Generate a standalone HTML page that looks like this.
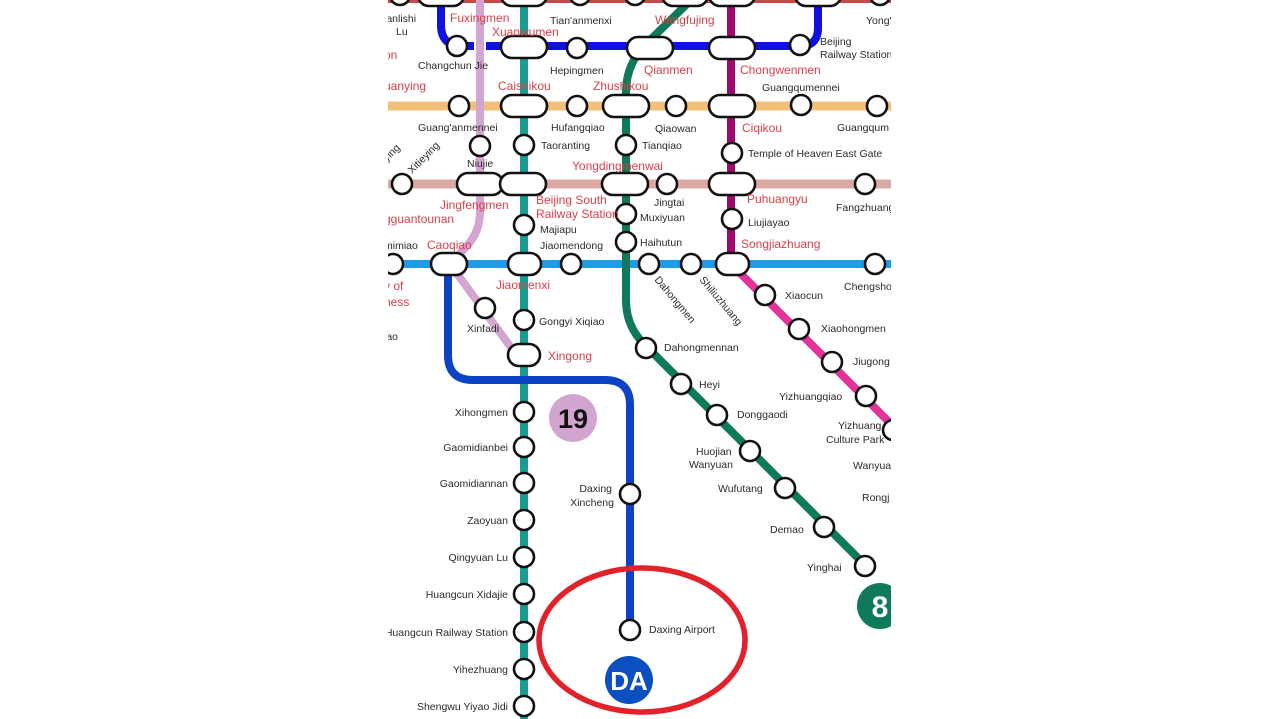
<!DOCTYPE html>
<html><head><meta charset="utf-8"><style>
html,body{margin:0;padding:0;background:#fff;}
svg{display:block;}
text{font-family:"Liberation Sans",sans-serif;}
.b{font-size:10.5px;fill:#2a2a2a;}
.r{font-size:12px;fill:#d9414a;}
</style></head><body>
<svg width="1280" height="719" viewBox="0 0 1280 719" xmlns="http://www.w3.org/2000/svg">
<defs><clipPath id="c"><rect x="388" y="0" width="503" height="719"/></clipPath></defs>
<g clip-path="url(#c)">
<rect x="388" y="-2" width="503" height="5" fill="#c8494a"/>
<path d="M441 0 L441 25 Q441 46 462 46 L800 46 Q818 46 818 28 L818 0" fill="none" stroke="#1010e0" stroke-width="8"/>
<line x1="388" y1="106" x2="891" y2="106" stroke="#f3c07c" stroke-width="9"/>
<line x1="388" y1="184" x2="891" y2="184" stroke="#dba9a3" stroke-width="9"/>
<line x1="388" y1="264" x2="891" y2="264" stroke="#1e9ce8" stroke-width="8"/>
<line x1="524" y1="0" x2="524" y2="719" stroke="#1b9c93" stroke-width="8"/>
<line x1="731" y1="0" x2="731" y2="264" stroke="#9c0a6c" stroke-width="8"/>
<line x1="731" y1="264" x2="895" y2="428" stroke="#e2339b" stroke-width="8"/>
<path d="M691 0 L645 45 Q626 65 626 92 L626 300 Q626 326 644 344 L866 566" fill="none" stroke="#0f7a5b" stroke-width="8"/>
<line x1="480" y1="25" x2="480" y2="65" stroke="#fff" stroke-width="12"/>
<path d="M480 0 L480 212 Q480 232 466 247 L450 264 L515 353" fill="none" stroke="#d4a5d0" stroke-width="8"/>
<path d="M448 264 L448 355 Q448 380 473 380 L605 380 Q630 380 630 405 L630 630" fill="none" stroke="#0b43c4" stroke-width="8"/>
<g fill="#fff" stroke="#111" stroke-width="2.6">
<circle cx="400" cy="-5" r="10"/><rect x="418" y="-16" width="46" height="22" rx="11"/><rect x="501" y="-16" width="46" height="22" rx="11"/>
<circle cx="580" cy="-5" r="10"/><circle cx="635" cy="-5" r="10"/><rect x="662" y="-16" width="46" height="22" rx="11"/>
<rect x="709" y="-16" width="46" height="22" rx="11"/><rect x="795" y="-16" width="46" height="22" rx="11"/><circle cx="880" cy="-5" r="10"/>
<circle cx="457" cy="46" r="10"/><rect x="501" y="36" width="46" height="22" rx="11"/><circle cx="577" cy="48" r="10"/>
<rect x="627" y="37" width="46" height="22" rx="11"/><rect x="709" y="37" width="46" height="22" rx="11"/><circle cx="800" cy="45" r="10"/>
<circle cx="459" cy="106" r="10"/><rect x="501" y="95" width="46" height="22" rx="11"/><circle cx="577" cy="106" r="10"/>
<rect x="603" y="95" width="46" height="22" rx="11"/><circle cx="676" cy="106" r="10"/><rect x="709" y="95" width="46" height="22" rx="11"/>
<circle cx="801" cy="105" r="10"/><circle cx="877" cy="106" r="10"/>
<circle cx="480" cy="146" r="10"/><circle cx="524" cy="145" r="10"/><circle cx="626" cy="145" r="10"/><circle cx="732" cy="153" r="10"/>
<circle cx="402" cy="184" r="10"/><rect x="457" y="173" width="46" height="22" rx="11"/><rect x="500" y="173" width="46" height="22" rx="11"/>
<rect x="602" y="173" width="46" height="22" rx="11"/><circle cx="667" cy="184" r="10"/><rect x="709" y="173" width="46" height="22" rx="11"/>
<circle cx="865" cy="184" r="10"/>
<circle cx="524" cy="225" r="10"/><circle cx="626" cy="214" r="10"/><circle cx="732" cy="219" r="10"/><circle cx="626" cy="242" r="10"/>
<circle cx="393" cy="264" r="10"/><rect x="431" y="253" width="36" height="22" rx="11"/><rect x="508" y="253" width="33" height="22" rx="11"/>
<circle cx="571" cy="264" r="10"/><circle cx="649" cy="264" r="10"/><circle cx="691" cy="264" r="10"/><rect x="716" y="253" width="33" height="22" rx="11"/>
<circle cx="875" cy="264" r="10"/>
<circle cx="485" cy="308" r="10"/><circle cx="524" cy="320" r="10"/><rect x="508" y="344" width="32" height="22" rx="11"/>
<circle cx="765" cy="295" r="10"/><circle cx="799" cy="329" r="10"/><circle cx="832" cy="362" r="10"/><circle cx="866" cy="396" r="10"/><circle cx="893" cy="430" r="10"/>
<circle cx="646" cy="348" r="10"/><circle cx="681" cy="384" r="10"/><circle cx="717" cy="415" r="10"/><circle cx="750" cy="451" r="10"/>
<circle cx="785" cy="488" r="10"/><circle cx="824" cy="527" r="10"/><circle cx="865" cy="566" r="10"/>
<circle cx="524" cy="412" r="10"/><circle cx="524" cy="447" r="10"/><circle cx="524" cy="483" r="10"/><circle cx="524" cy="520" r="10"/>
<circle cx="524" cy="557" r="10"/><circle cx="524" cy="594" r="10"/><circle cx="524" cy="632" r="10"/><circle cx="524" cy="669" r="10"/><circle cx="524" cy="706" r="10"/>
<circle cx="630" cy="494" r="10"/><circle cx="630" cy="630" r="10"/>
</g>
<circle cx="573" cy="418" r="24" fill="#d2a5d0"/><text x="573" y="428" text-anchor="middle" font-size="27" font-weight="bold" fill="#111">19</text>
<circle cx="880" cy="606" r="23" fill="#0f7a5b"/><text x="880" y="617" text-anchor="middle" font-size="30" font-weight="bold" fill="#fff">8</text>
<circle cx="629" cy="680" r="24" fill="#0b4fc0"/><text x="629" y="690" text-anchor="middle" font-size="26" font-weight="bold" fill="#fff">DA</text>
<text class="b" x="384" y="22">lanlishi</text><text class="b" x="396" y="35">Lu</text>
<text class="r" x="450" y="22">Fuxingmen</text><text class="b" x="550" y="24">Tian'anmenxi</text><text class="r" x="655" y="24">Wangfujing</text><text class="b" x="866" y="24">Yong'</text>
<text class="r" x="492" y="36">Xuanwumen</text>
<text class="r" x="384" y="59">on</text><text class="b" x="418" y="69">Changchun Jie</text><text class="b" x="550" y="74">Hepingmen</text>
<text class="r" x="644" y="74">Qianmen</text><text class="r" x="740" y="74">Chongwenmen</text>
<text class="b" x="820" y="45">Beijing</text><text class="b" x="820" y="58">Railway Station</text>
<text class="r" x="384" y="90">uanying</text><text class="r" x="498" y="90">Caishikou</text><text class="r" x="593" y="90">Zhushikou</text><text class="b" x="762" y="91">Guangqumennei</text>
<text class="b" x="418" y="131">Guang'anmennei</text><text class="b" x="551" y="131">Hufangqiao</text><text class="b" x="655" y="132">Qiaowan</text>
<text class="r" x="742" y="132">Ciqikou</text><text class="b" x="837" y="131">Guangqum</text>
<text class="b" x="541" y="149">Taoranting</text><text class="b" x="642" y="149">Tianqiao</text><text class="b" x="748" y="157">Temple of Heaven East Gate</text>
<text class="b" x="467" y="167">Niujie</text><text class="r" x="572" y="170">Yongdingmenwai</text>
<text class="b" transform="translate(412,174) rotate(-45)">Xitieying</text><text class="b" transform="translate(387,162) rotate(-45)">ying</text>
<text class="r" x="440" y="209">Jingfengmen</text><text class="r" x="536" y="204">Beijing South</text><text class="r" x="536" y="218">Railway Station</text>
<text class="b" x="654" y="206">Jingtai</text><text class="r" x="747" y="203">Puhuangyu</text><text class="b" x="836" y="211">Fangzhuang</text>
<text class="r" x="384" y="223">gguantounan</text><text class="b" x="540" y="233">Majiapu</text><text class="b" x="640" y="221">Muxiyuan</text><text class="b" x="748" y="226">Liujiayao</text>
<text class="b" x="384" y="249">mimiao</text><text class="r" x="427" y="249">Caoqiao</text><text class="b" x="540" y="249">Jiaomendong</text>
<text class="b" x="640" y="246">Haihutun</text><text class="r" x="741" y="248">Songjiazhuang</text>
<text class="r" x="496" y="289">Jiaomenxi</text><text class="b" x="844" y="290">Chengsho</text>
<text class="b" transform="translate(654,280) rotate(50)">Dahongmen</text><text class="b" transform="translate(699,280) rotate(50)">Shiliuzhuang</text>
<text class="b" x="785" y="299">Xiaocun</text><text class="b" x="821" y="332">Xiaohongmen</text><text class="b" x="853" y="365">Jiugong</text>
<text class="r" x="384" y="290">y of</text><text class="r" x="384" y="306">ness</text><text class="b" x="384" y="340">iao</text>
<text class="b" x="467" y="332">Xinfadi</text><text class="b" x="539" y="325">Gongyi Xiqiao</text><text class="r" x="548" y="360">Xingong</text>
<text class="b" x="664" y="351">Dahongmennan</text><text class="b" x="699" y="388">Heyi</text><text class="b" x="737" y="418">Donggaodi</text>
<text class="b" x="779" y="400">Yizhuangqiao</text><text class="b" x="838" y="429">Yizhuang</text><text class="b" x="826" y="443">Culture Park</text>
<text class="b" x="696" y="455">Huojian</text><text class="b" x="689" y="468">Wanyuan</text><text class="b" x="853" y="469">Wanyua</text>
<text class="b" x="718" y="492">Wufutang</text><text class="b" x="862" y="501">Rongj</text><text class="b" x="770" y="533">Demao</text><text class="b" x="807" y="571">Yinghai</text>
<text class="b" x="508" y="416" text-anchor="end">Xihongmen</text><text class="b" x="508" y="451" text-anchor="end">Gaomidianbei</text>
<text class="b" x="508" y="487" text-anchor="end">Gaomidiannan</text><text class="b" x="508" y="524" text-anchor="end">Zaoyuan</text>
<text class="b" x="508" y="561" text-anchor="end">Qingyuan Lu</text><text class="b" x="508" y="598" text-anchor="end">Huangcun Xidajie</text>
<text class="b" x="508" y="636" text-anchor="end">Huangcun Railway Station</text><text class="b" x="508" y="673" text-anchor="end">Yihezhuang</text>
<text class="b" x="508" y="710" text-anchor="end">Shengwu Yiyao Jidi</text>
<text class="b" x="612" y="492" text-anchor="end">Daxing</text><text class="b" x="614" y="506" text-anchor="end">Xincheng</text>
<text class="b" x="649" y="633">Daxing Airport</text>
</g>
<ellipse cx="642" cy="640" rx="103" ry="72" fill="none" stroke="#e3212a" stroke-width="5.5"/>
</svg>
</body></html>
